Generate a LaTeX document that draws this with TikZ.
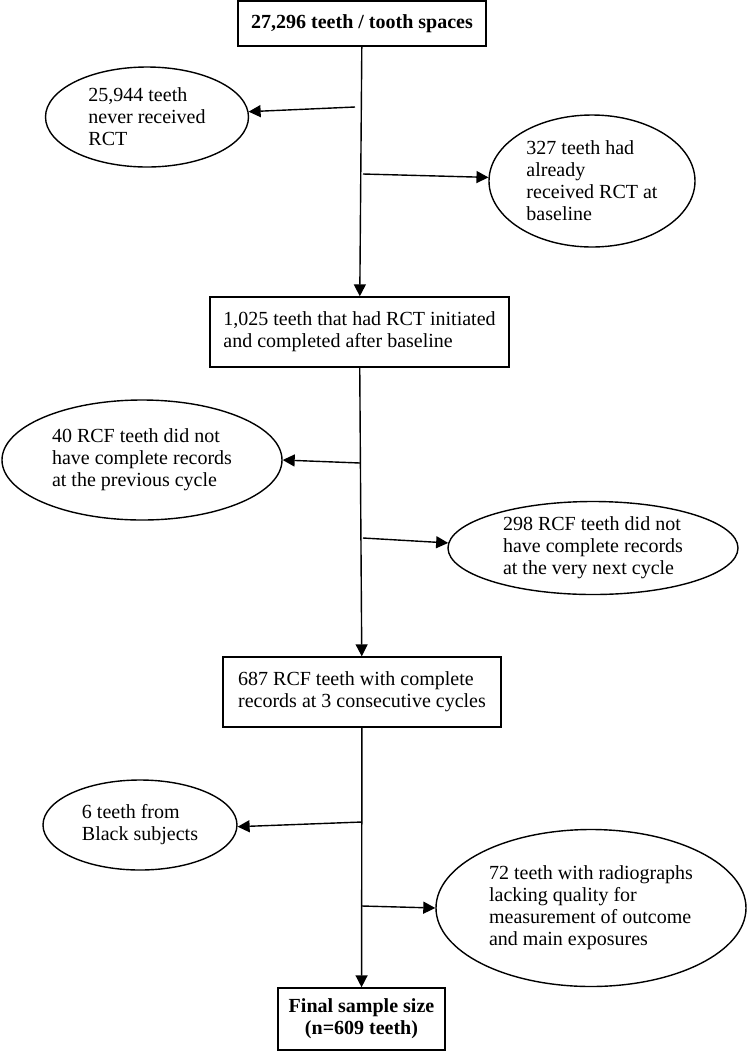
\documentclass[tikz,border=0pt]{standalone}
\usepackage{fontspec}
\setmainfont{Liberation Serif}
\usetikzlibrary{arrows.meta,shapes.geometric}

\tikzset{
  stagebox/.style={draw, align=left, inner sep=0pt},
  dropout/.style={draw, ellipse, align=left, inner sep=0pt},
}

\begin{document}
\begin{tikzpicture}[x=0.5pt, y=-0.5pt, line width=0.7pt, >={Triangle[length=6pt,width=6pt]},
    font=\fontsize{10}{11}\selectfont]
    \useasboundingbox (0,0) rectangle (750,1051);

    % main stages
    \node[stagebox, minimum width=124pt, minimum height=22.5pt, font=\fontsize{10}{11}\selectfont\bfseries]
        (start) at (362,23.5) {27,296 teeth / tooth spaces};
    \node[stagebox, minimum width=149.5pt, minimum height=35pt]
        (rct) at (359.5,332) {1,025 teeth that had RCT initiated\\and completed after baseline};
    \node[stagebox, minimum width=139pt, minimum height=35pt]
        (rcf) at (362,692) {687 RCF teeth with complete\\records at 3 consecutive cycles};
    \node[stagebox, align=center, minimum width=83.5pt, minimum height=31pt, font=\fontsize{10}{11}\selectfont\bfseries]
        (final) at (361.5,1019) {Final sample size\\(n=609 teeth)};

    % exclusions
    \node[dropout, minimum width=101.5pt, minimum height=50pt] (never) at (147,117)
        {25,944 teeth\\never received\\RCT};
    \node[dropout, minimum width=103pt, minimum height=66pt] (already) at (592,181)
        {327 teeth had\\already\\received RCT at\\baseline};
    \node[dropout, minimum width=140pt, minimum height=60pt] (prev) at (142,460)
        {40 RCF teeth did not\\have complete records\\at the previous cycle};
    \node[dropout, minimum width=145pt, minimum height=46.5pt] (next) at (593,548)
        {298 RCF teeth did not\\have complete records\\at the very next cycle};
    \node[dropout, minimum width=97pt, minimum height=45pt] (black) at (140,825)
        {6 teeth from\\Black subjects};
    \node[dropout, minimum width=155pt, minimum height=78.5pt] (radio) at (591,908)
        {72 teeth with radiographs\\lacking quality for\\measurement of outcome\\and main exposures};

    \draw[->] (start) -- (rct);
    \draw[->] (rct) -- (rcf);
    \draw[->] (rcf) -- (final);

    \coordinate (s1) at (355,107);
    \coordinate (s2) at (363,174);
    \coordinate (s3) at (360,463);
    \coordinate (s4) at (363,538);
    \coordinate (s5) at (362,822);
    \coordinate (s6) at (362,906);

    \draw[->] (s1) -- (never.3);
    \draw[->] (s2) -- (already.178);
    \draw[->] (s3) -- (prev.east);
    \draw[->] (s4) -- (next.178);
    \draw[->] (s5) -- (black.-1);
    \draw[->] (s6) -- (radio.west);
\end{tikzpicture}
\end{document}
